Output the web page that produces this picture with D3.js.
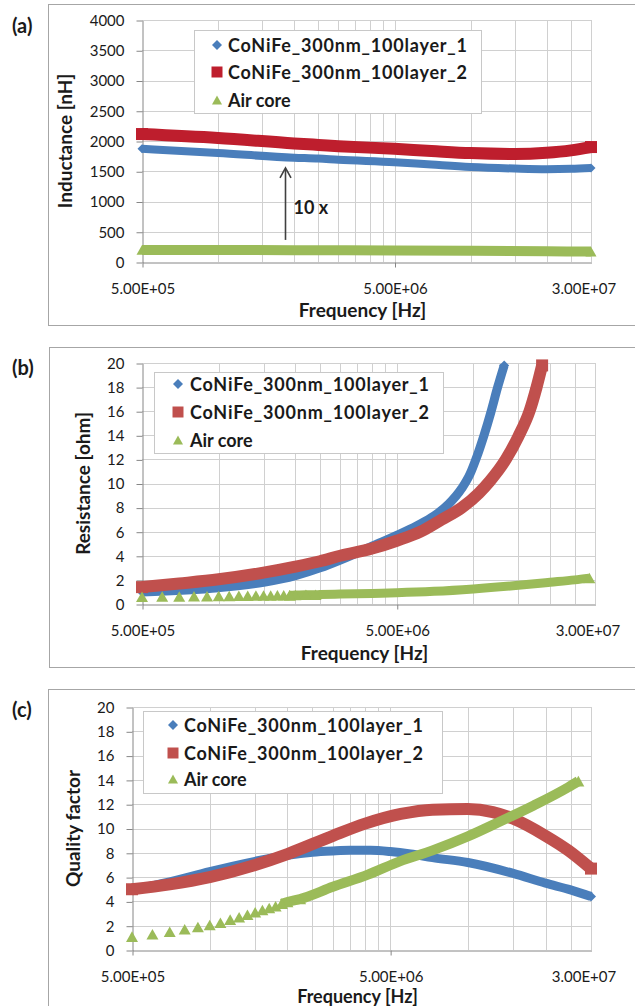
<!DOCTYPE html>
<html><head><meta charset="utf-8">
<script src="https://cdn.jsdelivr.net/npm/d3@7"></script>
<style>
body{margin:0;background:#fff}
svg{display:block}
text{font-family:Lato,"Open Sans",sans-serif;fill:#1a1a1a}
</style>
</head><body>
<svg id="c" width="635" height="1006"></svg>
<script>
// ---------------- DATA ----------------
const seriesNames = ["CoNiFe_300nm_100layer_1", "CoNiFe_300nm_100layer_2", "Air core"];
const xTickValues = [5e5, 5e6, 3e7];
const xTickLabels = ["5.00E+05", "5.00E+06", "3.00E+07"];
const xGridValues = [1e6, 1.5e6, 2e6, 2.5e6, 3e6, 3.5e6, 4e6, 4.5e6, 5e6, 1e7, 1.5e7, 2e7, 2.5e7, 3e7];
const yTicksA = [0, 500, 1000, 1500, 2000, 2500, 3000, 3500, 4000];
const yTicksBC = [0, 2, 4, 6, 8, 10, 12, 14, 16, 18, 20];

// (a) Inductance [nH]
const fA1 = [5e5, 1e6, 2e6, 2.5e6, 3e6, 5e6, 7e6, 1e7, 1.5e7, 2e7, 2.5e7, 3e7];
const vA1 = [1870, 1800, 1725, 1710, 1690, 1650, 1610, 1570, 1545, 1535, 1540, 1555];
const fA2 = [5e5, 1e6, 2e6, 2.5e6, 3e6, 5e6, 7e6, 1e7, 1.5e7, 2e7, 2.5e7, 3e7];
const vA2 = [2115, 2050, 1960, 1935, 1915, 1870, 1835, 1800, 1785, 1805, 1845, 1900];
const fA3 = [5e5, 1e6, 2e6, 5e6, 1e7, 2e7, 3e7];
const vA3 = [200, 198, 195, 190, 185, 178, 172];

// (b) Resistance [ohm]
const fB1 = [5e5, 1e6, 1.5e6, 2e6, 2.5e6, 3e6, 3.5e6, 4e6, 5e6, 6e6, 7e6, 8e6, 9e6, 9.7e6, 1.03e7, 1.1e7, 1.17e7, 1.245e7, 1.32e7];
const vB1 = [1.0, 1.35, 1.8, 2.35, 3.0, 3.65, 4.25, 4.8, 5.7, 6.5, 7.3, 8.3, 9.6, 10.8, 12.2, 14.0, 15.9, 18.0, 19.8];
const fB2 = [5e5, 7e5, 1e6, 1.5e6, 2e6, 2.5e6, 3e6, 4e6, 5e6, 6.2e6, 7.5e6, 9e6, 1.05e7, 1.16e7, 1.34e7, 1.5e7, 1.66e7, 1.77e7, 1.86e7];
const vB2 = [1.4, 1.7, 2.05, 2.6, 3.1, 3.55, 4.0, 4.6, 5.25, 6.0, 7.0, 8.0, 9.2, 10.2, 12.0, 13.9, 16.0, 18.0, 19.8];
const fB3 = [5e5, 6e5, 7e5, 8e5, 9e5, 1e6, 1.1e6, 1.2e6, 1.3e6, 1.4e6, 1.5e6, 1.6e6, 1.7e6, 1.8e6, 1.9e6, 2e6, 2.2e6, 2.4e6, 2.5e6, 3e6, 4e6, 5e6, 7e6, 1e7, 1.5e7, 2e7, 2.5e7, 2.85e7];
const vB3 = [0.60, 0.62, 0.63, 0.64, 0.65, 0.66, 0.67, 0.68, 0.69, 0.70, 0.70, 0.71, 0.72, 0.73, 0.73, 0.74, 0.76, 0.77, 0.78, 0.82, 0.88, 0.93, 1.05, 1.25, 1.55, 1.8, 2.0, 2.15];

// (c) Quality factor
const fC1 = [5e5, 7e5, 1e6, 1.5e6, 2e6, 2.5e6, 3e6, 3.5e6, 4.2e6, 5e6, 6e6, 7.3e6, 1e7, 1.5e7, 2e7, 2.5e7, 3e7];
const vC1 = [4.95, 5.6, 6.45, 7.3, 7.8, 8.05, 8.15, 8.2, 8.2, 8.1, 7.9, 7.6, 7.2, 6.3, 5.5, 4.95, 4.4];
const fC2 = [5e5, 7e5, 1e6, 1.5e6, 2e6, 3e6, 4e6, 5.5e6, 7.3e6, 1e7, 1.25e7, 1.5e7, 2e7, 2.45e7, 3e7];
const vC2 = [5.0, 5.4, 6.0, 7.0, 7.9, 9.4, 10.4, 11.2, 11.55, 11.6, 11.35, 10.8, 9.4, 8.2, 6.7];
const fC3 = [5e5, 6e5, 7e5, 8e5, 9e5, 1e6, 1.1e6, 1.2e6, 1.3e6, 1.4e6, 1.5e6, 1.6e6, 1.7e6, 1.8e6, 1.9e6, 2e6, 2.24e6, 3e6, 4.1e6, 5.45e6, 7.3e6, 1e7, 1.34e7, 1.8e7, 2.45e7, 2.68e7];
const vC3 = [1.1, 1.3, 1.5, 1.7, 1.9, 2.05, 2.25, 2.5, 2.7, 2.9, 3.1, 3.3, 3.45, 3.6, 3.8, 3.95, 4.2, 5.2, 6.2, 7.3, 8.2, 9.35, 10.6, 11.9, 13.4, 13.9];

// annotation in panel (a)
const arrowFreq = 1.84e6, arrowFrom = 365, arrowTo = 1555, arrowLabel = "10 x";

// ---------------- STYLE / LAYOUT ----------------
const BLUE = "#4a7ebb", GREEN = "#9bbb59";
const panels = [
  { tag: "(a)", tagX: 12, tagY: 33, frame: [48, 4, 640, 325], l: 142, r: 591, t: 20, b: 262,
    yMax: 4000, yTicks: yTicksA, yTitle: "Inductance [nH]", yTitleX: 72, xTitleY: 317, xTitleSize: 19,
    legend: { x: 194, y: 30, w: 287, h: 83, mx: 217, tx: 228, rows: [45, 72, 100] },
    series: [
      { f: fA1, v: vA1, color: BLUE, shape: "diamond", w: 8, ms: 9 },
      { f: fA2, v: vA2, color: "#be1e2d", shape: "square", w: 12, ms: 12 },
      { f: fA3, v: vA3, color: GREEN, shape: "triangle", w: 10, ms: 11 }
    ], arrow: true },
  { tag: "(b)", tagX: 12, tagY: 375, frame: [49, 347, 640, 667], l: 142, r: 595, t: 363, b: 604,
    yMax: 20, yTicks: yTicksBC, yTitle: "Resistance [ohm]", yTitleX: 90, xTitleY: 660, xTitleSize: 19,
    legend: { x: 154, y: 372, w: 289, h: 81, mx: 178, tx: 190, rows: [384, 412, 440] },
    series: [
      { f: fB1, v: vB1, color: BLUE, shape: "diamond", w: 9, ms: 10 },
      { f: fB2, v: vB2, color: "#c0504d", shape: "square", w: 12, ms: 12 },
      { f: fB3, v: vB3, color: GREEN, shape: "triangle", w: 9, ms: 12, dotsBelow: 2.45e6, lineFrom: 1.9e6 }
    ] },
  { tag: "(c)", tagX: 12, tagY: 717, frame: [48, 689, 640, 1020], l: 132, r: 591, t: 707, b: 950,
    yMax: 20, yTicks: yTicksBC, yTitle: "Quality factor", yTitleX: 80, xTitleY: 1003, xTitleSize: 18,
    legend: { x: 143, y: 711, w: 299, h: 82, mx: 173, tx: 184, rows: [725, 753, 779] },
    series: [
      { f: fC1, v: vC1, color: BLUE, shape: "diamond", w: 9, ms: 10 },
      { f: fC2, v: vC2, color: "#c0504d", shape: "square", w: 12, ms: 12 },
      { f: fC3, v: vC3, color: GREEN, shape: "triangle", w: 10, ms: 12, dotsBelow: 2.3e6, lineFrom: 1.85e6 }
    ] }
];

function markerPath(shape, w) {
  const h = w / 2;
  if (shape === "diamond") return `M0,${-h}L${h},0L0,${h}L${-h},0Z`;
  if (shape === "square") return `M${-h},${-h}H${h}V${h}H${-h}Z`;
  const th = w * 0.88;
  return `M0,${-th / 2}L${h},${th / 2}L${-h},${th / 2}Z`;
}

const svg = d3.select("#c");

panels.forEach(p => {
  const g = svg.append("g");
  const [fx0, fy0, fx1, fy1] = p.frame;
  g.append("rect").attr("x", fx0 + 0.5).attr("y", fy0 + 0.5)
    .attr("width", fx1 - fx0).attr("height", fy1 - fy0)
    .attr("fill", "#fff").attr("stroke", "#a6a6a6").attr("stroke-width", 1);

  const x = d3.scaleLog().domain([5e5, 3e7]).range([p.l, p.r]);
  const y = d3.scaleLinear().domain([0, p.yMax]).range([p.b, p.t]);

  // gridlines
  g.append("g").selectAll("line").data(xGridValues).join("line")
    .attr("x1", d => Math.round(x(d)) + 0.5).attr("x2", d => Math.round(x(d)) + 0.5)
    .attr("y1", p.t).attr("y2", p.b)
    .attr("stroke", "#d0d0d0").attr("stroke-width", 1);
  g.append("g").selectAll("line").data(p.yTicks.slice(1)).join("line")
    .attr("y1", d => Math.round(y(d)) + 0.5).attr("y2", d => Math.round(y(d)) + 0.5)
    .attr("x1", p.l).attr("x2", p.r)
    .attr("stroke", "#d0d0d0").attr("stroke-width", 1);

  // y axis
  const ya = g.append("g").attr("transform", `translate(${Math.round(p.l) + 0.5},0.5)`)
    .call(d3.axisLeft(y).tickValues(p.yTicks).tickSize(6).tickSizeOuter(0).tickPadding(12)
      .tickFormat(d3.format("d")));
  ya.selectAll("path,line").attr("stroke", "#868686");
  ya.selectAll("text").attr("font-size", 15).attr("font-family", "Lato").attr("fill", "#222");

  // x axis
  const xa = g.append("g").attr("transform", `translate(0.5,${Math.round(p.b) + 0.5})`)
    .call(d3.axisBottom(x).tickValues(xTickValues).tickSize(5).tickSizeOuter(0).tickPadding(16)
      .tickFormat((d, i) => xTickLabels[i]));
  xa.selectAll("path,line").attr("stroke", "#868686");
  xa.selectAll(".tick").filter(d => d === 3e7).select("line").remove();
  xa.selectAll(".tick").filter(d => d === 3e7).select("text").attr("dx", -8);
  xa.selectAll("text").attr("font-size", 15).attr("font-family", "Lato").attr("fill", "#222");

  // series
  const plot = g.append("g");
  p.series.forEach(s => {
    const pts = s.f.map((f, i) => [f, s.v[i]]);
    const linePts = s.lineFrom ? pts.filter(d => d[0] >= s.lineFrom) : pts;
    plot.append("path").datum(linePts)
      .attr("d", d3.line().x(d => x(d[0])).y(d => y(d[1])).curve(d3.curveMonotoneX))
      .attr("fill", "none").attr("stroke", s.color).attr("stroke-width", s.w)
      .attr("stroke-linecap", "butt").attr("stroke-linejoin", "round");
    const mk = s.dotsBelow ? pts.filter(d => d[0] <= s.dotsBelow) : [];
    const ends = [linePts[0], linePts[linePts.length - 1]];
    plot.selectAll(null).data(mk.concat(ends)).join("path")
      .attr("transform", d => `translate(${x(d[0])},${y(d[1])})`)
      .attr("d", markerPath(s.shape, s.ms)).attr("fill", s.color);
  });

  // annotation arrow
  if (p.arrow) {
    const ax = Math.round(x(arrowFreq)) + 0.5, ay0 = y(arrowFrom), ay1 = y(arrowTo);
    g.append("line").attr("x1", ax).attr("x2", ax).attr("y1", ay0).attr("y2", ay1 + 1)
      .attr("stroke", "#404040").attr("stroke-width", 1.6);
    g.append("path").attr("d", `M${ax - 5.5},${ay1 + 10}L${ax},${ay1}L${ax + 5.5},${ay1 + 10}`)
      .attr("fill", "none").attr("stroke", "#404040").attr("stroke-width", 1.6);
    g.append("text").attr("x", ax + 8).attr("y", (ay0 + ay1) / 2 + 10)
      .attr("font-size", 18).attr("font-weight", 700).text(arrowLabel);
  }

  // legend
  const L = p.legend;
  const lg = g.append("g");
  lg.append("rect").attr("x", L.x + 0.5).attr("y", L.y + 0.5).attr("width", L.w).attr("height", L.h)
    .attr("fill", "#fff").attr("stroke", "#c8c8c8");
  p.series.forEach((s, i) => {
    lg.append("path").attr("transform", `translate(${L.mx},${L.rows[i]})`)
      .attr("d", markerPath(s.shape, s.shape === "square" ? 11 : 10)).attr("fill", s.color);
    const t = lg.append("text").attr("x", L.tx).attr("y", L.rows[i] + 6.5)
      .attr("font-size", 18).attr("font-weight", 700).text(seriesNames[i]);
    if (i < 2) t.attr("textLength", 239).attr("lengthAdjust", "spacing");
  });

  // titles
  g.append("text").attr("x", p.tagX).attr("y", p.tagY).attr("font-size", 20)
    .attr("font-weight", 700).text(p.tag);
  g.append("text").attr("transform", `translate(${p.yTitleX},${(p.t + p.b) / 2}) rotate(-90)`)
    .attr("text-anchor", "middle").attr("font-size", 19).attr("font-weight", 700).text(p.yTitle);
  g.append("text").attr("x", (p.l + p.r) / 2 - 4).attr("y", p.xTitleY)
    .attr("text-anchor", "middle").attr("font-size", p.xTitleSize).attr("font-weight", 700).text("Frequency [Hz]");
});
</script>
</body></html>
